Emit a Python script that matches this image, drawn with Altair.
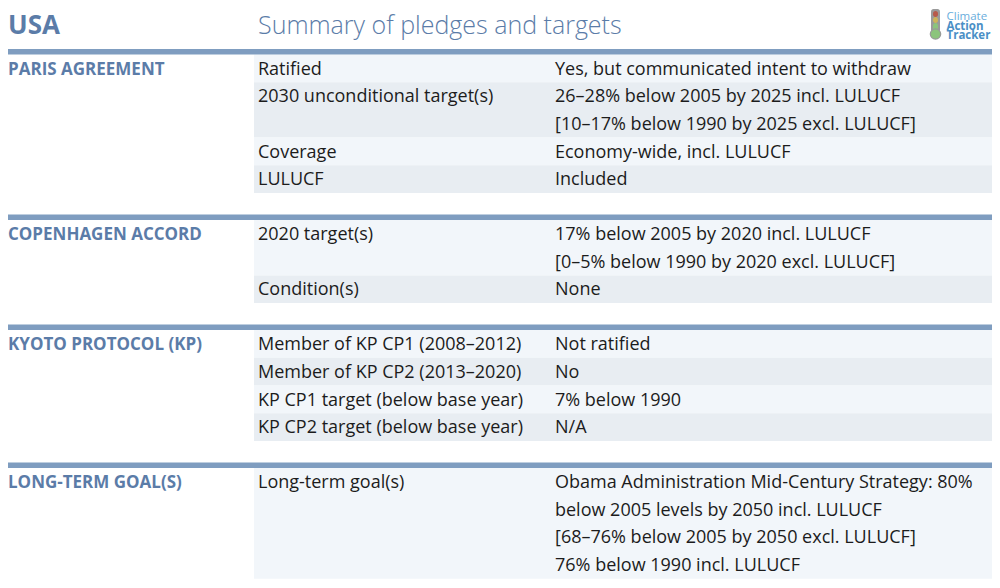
import altair as alt
import pandas as pd

# ---------------- content ----------------
COUNTRY = "USA"
TITLE = "Summary of pledges and targets"
SECTIONS = ["PARIS AGREEMENT", "COPENHAGEN ACCORD", "KYOTO PROTOCOL (KP)", "LONG-TERM GOAL(S)"]
LABELS = [
    ["Ratified", "2030 unconditional target(s)", "Coverage", "LULUCF"],
    ["2020 target(s)", "Condition(s)"],
    ["Member of KP CP1 (2008–2012)", "Member of KP CP2 (2013–2020)",
     "KP CP1 target (below base year)", "KP CP2 target (below base year)"],
    ["Long-term goal(s)"],
]
VALUES = [
    [["Yes, but communicated intent to withdraw"],
     ["26–28% below 2005 by 2025 incl. LULUCF", "[10–17% below 1990 by 2025 excl. LULUCF]"],
     ["Economy-wide, incl. LULUCF"],
     ["Included"]],
    [["17% below 2005 by 2020 incl. LULUCF", "[0–5% below 1990 by 2020 excl. LULUCF]"],
     ["None"]],
    [["Not ratified"], ["No"], ["7% below 1990"], ["N/A"]],
    [["Obama Administration Mid-Century Strategy: 80%", "below 2005 levels by 2050 incl. LULUCF",
      "[68–76% below 2005 by 2050 excl. LULUCF]", "76% below 1990 incl. LULUCF"]],
]
LOGO_WORDS = ["Climate", "Action", "Tracker"]

# ---------------- layout (pixel grid of the 1000x588 picture) ----------------
BLUE = "#5b7ca8"
RULE = "#7f9dc0"
LIGHT = "#f2f6fa"
DARK = "#e8edf2"
INK = "#1c1c1c"
LINE_H = 27.7
RULE_H = 5.5
GAP = 21.5
X_LABEL, X_VALUE, X_ROW = 258, 555, 254

rules, rows, heads, body = [], [], [], []
y = 49
for s, sec in enumerate(SECTIONS):
    rules.append({"x": 0, "x2": 1000, "y": y, "y2": y + RULE_H})
    top = y + RULE_H
    heads.append({"x": 8, "y": top + 15, "t": sec})
    for i, (lab, vals) in enumerate(zip(LABELS[s], VALUES[s])):
        n = len(vals)
        rows.append({"x": X_ROW, "x2": 1000, "y": top, "y2": top + n * LINE_H,
                     "c": LIGHT if i % 2 == 0 else DARK})
        body.append({"x": X_LABEL, "y": top + 15, "t": lab})
        for k, v in enumerate(vals):
            body.append({"x": X_VALUE, "y": top + 15 + k * LINE_H, "t": v})
        top += n * LINE_H
    y = top + GAP

# chart area sits at page (8, 8); map picture pixels 1:1
X = alt.Scale(domain=[8, 992], clamp=True)
Y = alt.Scale(domain=[8, 580], reverse=True, clamp=True)

rule_layer = alt.Chart(pd.DataFrame(rules)).mark_rect(color=RULE).encode(
    x=alt.X("x:Q", scale=X, axis=None), x2="x2:Q",
    y=alt.Y("y:Q", scale=Y, axis=None), y2="y2:Q")

row_layer = alt.Chart(pd.DataFrame(rows)).mark_rect().encode(
    x=alt.X("x:Q", scale=X, axis=None), x2="x2:Q",
    y=alt.Y("y:Q", scale=Y, axis=None), y2="y2:Q",
    color=alt.Color("c:N", scale=None))

def text_layer(data, baseline="middle", **mk):
    return alt.Chart(pd.DataFrame(data)).mark_text(align="left", baseline=baseline, **mk).encode(
        x=alt.X("x:Q", scale=X, axis=None),
        y=alt.Y("y:Q", scale=Y, axis=None),
        text="t:N")

head_layer = text_layer(heads, font="Open Sans", fontSize=17, fontWeight="bold", color=BLUE)
body_layer = text_layer(body, font="Open Sans", fontSize=18, color=INK)
country_layer = text_layer([{"x": 8, "y": 34, "t": COUNTRY}], baseline="alphabetic",
                           font="Open Sans", fontSize=26, fontWeight="bold", color=BLUE)
title_layer = text_layer([{"x": 258, "y": 34, "t": TITLE}], baseline="alphabetic",
                         font="Open Sans", fontSize=25, fontWeight=300, color=BLUE)

# logo
logo_text = text_layer(
    [{"x": 946.5, "y": 20, "t": LOGO_WORDS[0]}], baseline="alphabetic",
    font="Open Sans", fontSize=11.5, color="#6aaedc")
logo_text2 = text_layer(
    [{"x": 946.5, "y": 29.5, "t": LOGO_WORDS[1]}, {"x": 946.5, "y": 39, "t": LOGO_WORDS[2]}],
    baseline="alphabetic", font="Open Sans", fontSize=11.5, fontWeight="bold", color="#4a8fc6")
tube = pd.DataFrame([
    {"x": 931, "x2": 940, "y": 9, "y2": 32, "c": "#9a9a9a"},
    {"x": 933, "x2": 938, "y": 11, "y2": 17, "c": "#b85a4a"},
    {"x": 933, "x2": 938, "y": 17, "y2": 23, "c": "#cdb45a"},
    {"x": 933, "x2": 938, "y": 23, "y2": 33, "c": "#8cc47c"},
])
tube_layer = alt.Chart(tube).mark_rect(cornerRadius=2.5).encode(
    x=alt.X("x:Q", scale=X, axis=None), x2="x2:Q",
    y=alt.Y("y:Q", scale=Y, axis=None), y2="y2:Q",
    color=alt.Color("c:N", scale=None))
bulb = pd.DataFrame([{"x": 935.5, "y": 34, "s": 135, "c": "#9a9a9a"},
                     {"x": 935.5, "y": 34, "s": 85, "c": "#8cc47c"}])
bulb_layer = alt.Chart(bulb).mark_circle(opacity=1).encode(
    x=alt.X("x:Q", scale=X, axis=None),
    y=alt.Y("y:Q", scale=Y, axis=None),
    size=alt.Size("s:Q", scale=None),
    color=alt.Color("c:N", scale=None))

chart = alt.layer(
    row_layer, rule_layer, head_layer, body_layer, country_layer, title_layer,
    tube_layer, bulb_layer, logo_text, logo_text2
).properties(
    width=984, height=572, padding=0, background="white"
).configure_view(stroke=None)

chart.save("out.html", embed_options={"renderer": "svg", "actions": False})
